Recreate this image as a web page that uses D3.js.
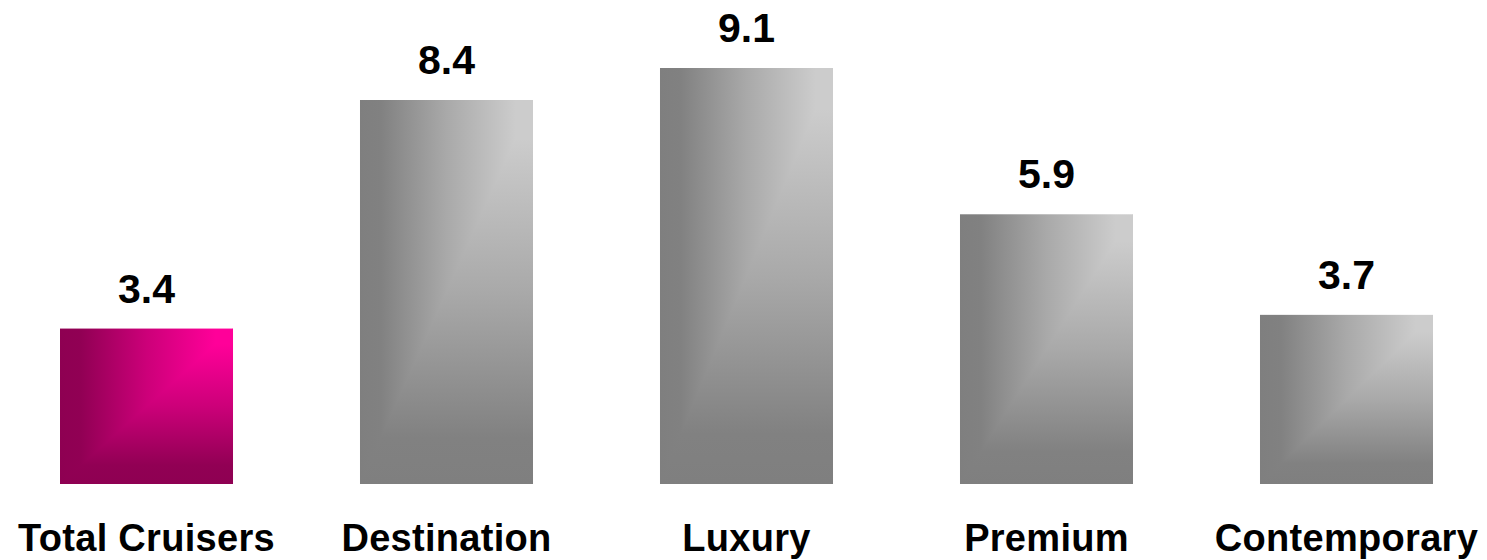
<!DOCTYPE html>
<html>
<head>
<meta charset="utf-8">
<script src="https://cdn.jsdelivr.net/npm/d3@7"></script>
<style>
  html, body { margin: 0; padding: 0; background: #ffffff; }
  svg { display: block; }
</style>
</head>
<body>
<svg id="chart" width="1487" height="560"></svg>
<script>
// Segment values
const categories = ["Total Cruisers", "Destination", "Luxury", "Premium", "Contemporary"];
const values = [3.4, 8.4, 9.1, 5.9, 3.7];
const valueLabels = ["3.4", "8.4", "9.1", "5.9", "3.7"];
const highlight = ["Total Cruisers"];

const svg = d3.select("#chart");
const baseY = 484;

const x = d3.scaleBand()
  .domain(categories)
  .range([60, 1433])
  .paddingInner(0.4233)
  .paddingOuter(0);

const y = d3.scaleLinear()
  .domain([0, 9.1])
  .range([baseY, 68]);

// Colour schemes: dark edge (left / bottom) and light corner (top-right)
const palettes = {
  pink: { dark: "#8e0052", light: "#ff0099" },
  grey: { dark: "#7f7f7f", light: "#cccccc" }
};

// Ramp shape shared by both directions, so the two halves meet seamlessly
const ramp = [[0, 0], [0.12, 0.03], [0.5, 0.55], [0.9, 1], [1, 1]];

const defs = svg.append("defs");
Object.entries(palettes).forEach(([key, p]) => {
  const mix = d3.interpolateRgb(p.dark, p.light);
  const h = defs.append("linearGradient")
    .attr("id", `h-${key}`)
    .attr("x1", 0).attr("y1", 0).attr("x2", 1).attr("y2", 0);
  ramp.forEach(([o, t]) => h.append("stop").attr("offset", o).attr("stop-color", mix(t)));

  const v = defs.append("linearGradient")
    .attr("id", `v-${key}`)
    .attr("x1", 0).attr("y1", 1).attr("x2", 0).attr("y2", 0);
  ramp.forEach(([o, t]) => v.append("stop").attr("offset", o).attr("stop-color", mix(t)));
});

const data = categories.map((c, i) => ({ cat: c, value: values[i], label: valueLabels[i] }));
const paletteOf = d => highlight.includes(d.cat) ? "pink" : "grey";

const bars = svg.append("g").selectAll("g.bar")
  .data(data)
  .join("g")
  .attr("class", "bar");

// Upper-left half: horizontal shading
bars.append("rect")
  .attr("x", d => x(d.cat))
  .attr("y", d => y(d.value))
  .attr("width", x.bandwidth())
  .attr("height", d => baseY - y(d.value))
  .attr("fill", d => `url(#h-${paletteOf(d)})`);

// Lower-right half: vertical shading, meeting along the diagonal
bars.append("path")
  .attr("d", d => {
    const x0 = x(d.cat), x1 = x0 + x.bandwidth();
    const y0 = y(d.value), y1 = baseY;
    return `M${x1},${y0}L${x1},${y1}L${x0},${y1}Z`;
  })
  .attr("fill", d => `url(#v-${paletteOf(d)})`);

// Value labels above the bars
svg.append("g").selectAll("text")
  .data(data)
  .join("text")
  .attr("x", d => x(d.cat) + x.bandwidth() / 2)
  .attr("y", d => y(d.value) - 26)
  .attr("text-anchor", "middle")
  .attr("font-family", "'Liberation Sans', Arial, sans-serif")
  .attr("font-weight", "bold")
  .attr("font-size", 41)
  .attr("fill", "#000")
  .text(d => d.label);

// Category labels
svg.append("g").selectAll("text")
  .data(data)
  .join("text")
  .attr("x", d => x(d.cat) + x.bandwidth() / 2)
  .attr("y", 551)
  .attr("text-anchor", "middle")
  .attr("font-family", "'Liberation Sans', Arial, sans-serif")
  .attr("font-weight", "bold")
  .attr("font-size", 38)
  .attr("letter-spacing", "0.3px")
  .attr("fill", "#000")
  .text(d => d.cat);
</script>
</body>
</html>
